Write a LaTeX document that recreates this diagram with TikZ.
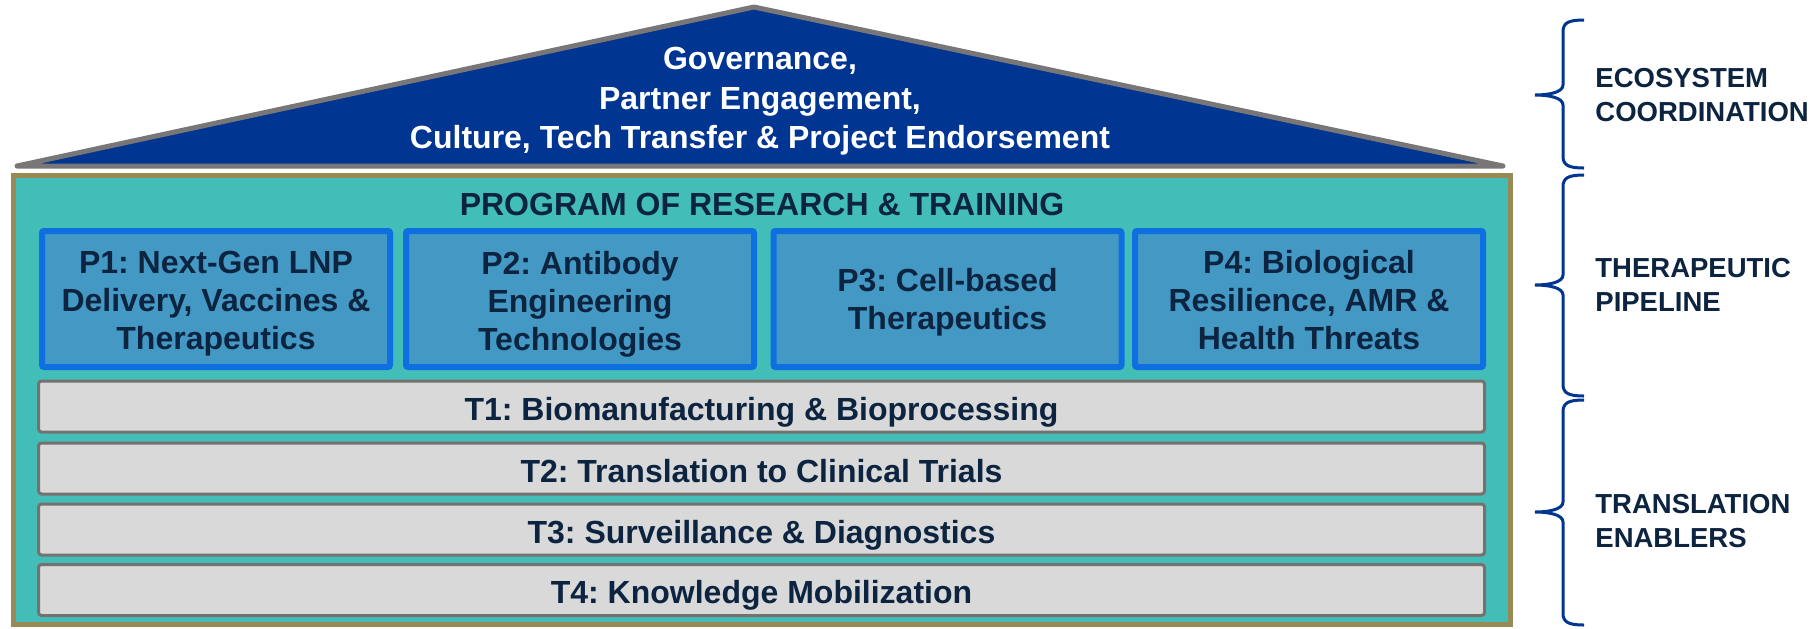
\documentclass[tikz,border=0pt]{standalone}
\usepackage{fontspec}
\setmainfont{Liberation Sans}
\frenchspacing
\definecolor{roofblue}{RGB}{0,53,145}
\definecolor{roofgray}{RGB}{120,118,118}
\definecolor{bodyteal}{RGB}{67,189,184}
\definecolor{bodyolive}{RGB}{152,138,85}
\definecolor{pfill}{RGB}{67,153,196}
\definecolor{pborder}{RGB}{14,112,224}
\definecolor{tfill}{RGB}{217,217,217}
\definecolor{tborder}{RGB}{118,113,113}
\definecolor{navytext}{RGB}{12,36,64}
\definecolor{bracecol}{RGB}{0,53,145}
\begin{document}
\begin{tikzpicture}[x=0.5pt,y=-0.5pt,
  bodybox/.style={draw=bodyolive, fill=bodyteal, line width=2.5pt, minimum width=748.5pt, minimum height=224.5pt, inner sep=0pt},
  roofshape/.style={draw=roofgray, fill=roofblue, line width=2.5pt, line join=round, line cap=round},
  rooftext/.style={align=center, text=white, font=\fontsize{16}{19.75}\selectfont\bfseries},
  titletext/.style={text=navytext, font=\fontsize{16}{18}\selectfont\bfseries},
  pbox/.style={draw=pborder, fill=pfill, line width=3pt, rounded corners=1pt, minimum width=174pt, minimum height=68pt, inner sep=0pt},
  ptext/.style={align=center, inner sep=0pt, text=navytext, font=\fontsize{16}{19}\selectfont\bfseries},
  tbox/.style={draw=tborder, fill=tfill, line width=1.5pt, rounded corners=1.5pt, minimum width=723pt, minimum height=25.5pt, inner sep=0pt, text height=13.5pt, text depth=0pt, text=navytext, font=\fontsize{16}{18}\selectfont\bfseries},
  sidelabel/.style={anchor=west, align=left, text=navytext, inner sep=0pt, font=\fontsize{13.75}{17}\selectfont\bfseries},
  bracestyle/.style={draw=bracecol, line width=1.5pt}
]
\useasboundingbox (0,0) rectangle (1817,628);
% house body
\node[bodybox] (body) at (762,400) {};
% roof
\draw[roofshape] (17,166) -- (754,7) -- (1503,166) -- cycle;
\node[rooftext] (roof) at (760,101.5) {Governance,\\Partner Engagement,\\Culture, Tech Transfer \& Project Endorsement};
% title
\node[titletext] (title) at (762,204) {PROGRAM OF RESEARCH \& TRAINING};
% pillars
\node[pbox] (p1) at (216,299) {};
\node[pbox] (p2) at (580,299) {};
\node[pbox] (p3) at (947.5,299) {};
\node[pbox] (p4) at (1309,299) {};
\node[ptext] (p1t) at (216,304) {P1: Next-Gen LNP\\Delivery, Vaccines \&\\Therapeutics};
\node[ptext] (p2t) at (580,304) {P2: Antibody\\Engineering\\Technologies};
\node[ptext] (p3t) at (947.5,302.5) {P3: Cell-based\\Therapeutics};
\node[ptext] (p4t) at (1309,300.5) {P4: Biological\\Resilience, AMR \&\\Health Threats};
% translation bars
\node[tbox] (t1) at (761.5,406.5) {T1: Biomanufacturing \& Bioprocessing};
\node[tbox] (t2) at (761.5,468.5) {T2: Translation to Clinical Trials};
\node[tbox] (t3) at (761.5,529.5) {T3: Surveillance \& Diagnostics};
\node[tbox] (t4) at (761.5,590) {T4: Knowledge Mobilization};
% braces
\foreach \t/\m/\b in {20/95/168, 175/285/396, 400/512/625}{
  \draw[bracestyle] (1584,\t) .. controls (1568,\t) and (1563,\t+3) .. (1563,\t+12)
    -- (1563,\m-10) .. controls (1563,\m-3) and (1550,\m) .. (1535,\m)
    .. controls (1550,\m) and (1563,\m+3) .. (1563,\m+10)
    -- (1563,\b-12) .. controls (1563,\b-3) and (1568,\b) .. (1584,\b);
}
% side labels
\node[sidelabel] (eco) at (1595,95) {ECOSYSTEM\\COORDINATION};
\node[sidelabel] (thera) at (1595,285) {THERAPEUTIC\\PIPELINE};
\node[sidelabel] (trans) at (1595,521) {TRANSLATION\\ENABLERS};
\end{tikzpicture}
\end{document}
